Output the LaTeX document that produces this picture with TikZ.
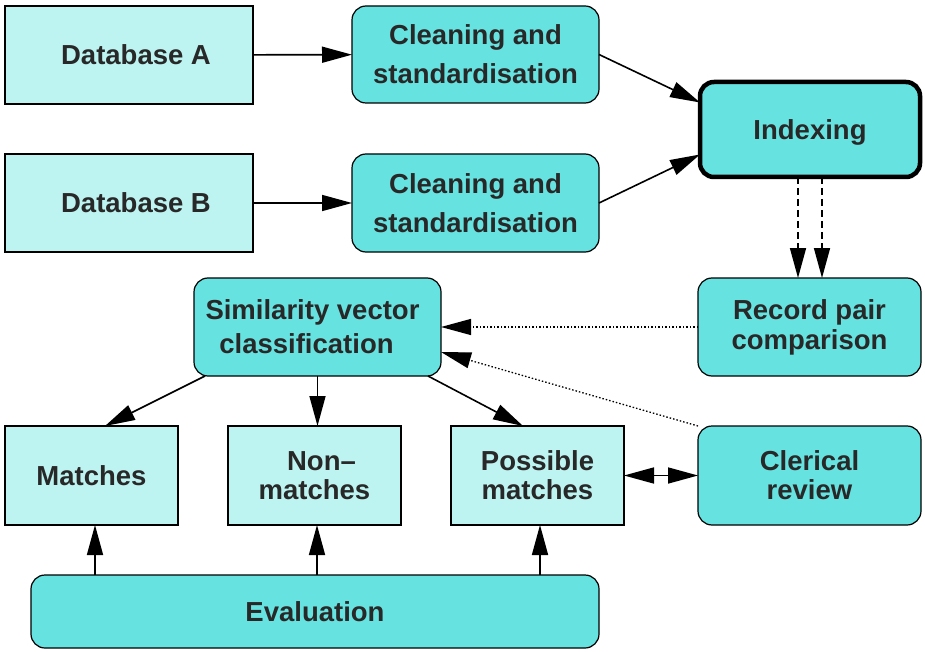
\documentclass[tikz,border=0pt]{standalone}
\usepackage{fontspec}
\setmainfont{Liberation Sans}
\usetikzlibrary{arrows.meta,calc}
\definecolor{lightc}{HTML}{BDF4F2}
\definecolor{darkc}{HTML}{66E3E1}
\definecolor{txt}{HTML}{282828}
\tikzset{
  base/.style={draw=black, line width=1.2pt, inner sep=0pt, outer sep=0pt, align=center,
    text=txt, font=\bfseries\fontsize{27.5}{29}\selectfont},
  plainbox/.style={base, fill=lightc, rectangle},
  roundbox/.style={base, fill=darkc, rounded corners=14pt},
  oneline/.style={text height=20pt, text depth=0pt},
  tip/.tip={Triangle[length=30pt,width=16pt]},
  arr/.style={line width=1.6pt, -tip},
  dbl/.style={line width=1.6pt, tip-tip},
  dashedarr/.style={arr, dash pattern=on 7pt off 4pt},
  dottedarr/.style={line width=1.3pt, dash pattern=on 1.5pt off 2pt, -tip},
}
\begin{document}
\begin{tikzpicture}[x=1pt,y=-1pt]
\useasboundingbox (0,0) rectangle (925,652);
\node[plainbox, oneline, minimum width=248pt, minimum height=98pt] (dbA) at (129,55) {\hspace*{14pt}Database A};
\node[plainbox, oneline, minimum width=248pt, minimum height=98pt] (dbB) at (129,203) {\hspace*{14pt}Database B};
\node[roundbox, minimum width=247pt, minimum height=97pt, font=\bfseries\fontsize{27.5}{39}\selectfont] (cl1) at (475.5,54.5) {Cleaning and\\standardisation};
\node[roundbox, minimum width=247pt, minimum height=98pt, font=\bfseries\fontsize{27.5}{39}\selectfont] (cl2) at (475.5,203) {Cleaning and\\standardisation};
\node[roundbox, oneline, line width=4.5pt, minimum width=220pt, minimum height=95pt] (idx) at (810,129.5) {Indexing};
\node[roundbox, minimum width=223pt, minimum height=98pt, font=\bfseries\fontsize{27.5}{30}\selectfont] (rec) at (809.5,327) {Record pair\\comparison};
\node[roundbox, minimum width=247pt, minimum height=98pt, font=\bfseries\fontsize{27.5}{34}\selectfont] (sim) at (317.5,327) {Similarity vector\hspace*{10pt}\\classification\hspace*{22pt}};
\node[plainbox, oneline, minimum width=173pt, minimum height=99pt] (mat) at (91.5,475.5) {Matches};
\node[plainbox, minimum width=173pt, minimum height=99pt] (non) at (314.5,475.5) {\hspace*{14pt}Non--\\matches};
\node[plainbox, minimum width=173pt, minimum height=99pt] (pos) at (537.5,475.5) {Possible\\matches};
\node[roundbox, minimum width=223pt, minimum height=99pt] (cler) at (809.5,475.5) {Clerical\\review};
\node[roundbox, oneline, minimum width=568pt, minimum height=73pt] (eva) at (315,611.5) {Evaluation};

\draw[arr] (dbA) -- (cl1);
\draw[arr] (dbB) -- (cl2);
\draw[arr] (cl1.east) -- ([yshift=27pt]idx.west);
\draw[arr] (cl2.east) -- ([yshift=-25pt]idx.west);
\draw[dashedarr] ([xshift=-12pt]idx.south) -- ([xshift=-12pt]idx.south |- rec.north);
\draw[dashedarr] ([xshift=12pt]idx.south) -- ([xshift=12pt]idx.south |- rec.north);
\draw[dottedarr] (rec.west) -- (sim.east);
\draw[dottedarr] (cler.north west) -- ([yshift=-25pt]sim.east);
\draw[arr] ([xshift=-112.5pt]sim.south) -- ([xshift=13.5pt]mat.north);
\draw[arr] (sim.south) -- (sim.south |- non.north);
\draw[arr] ([xshift=110.5pt]sim.south) -- ([xshift=-14.5pt]pos.north);
\draw[dbl] (pos.east) -- (cler.west);
\coordinate (e1) at ($(eva.north)+(-220,0)$);
\coordinate (e2) at ($(eva.north)+(2,0)$);
\coordinate (e3) at ($(eva.north)+(225,0)$);
\draw[arr] (e1) -- (e1 |- mat.south);
\draw[arr] (e2) -- (e2 |- non.south);
\draw[arr] (e3) -- (e3 |- pos.south);
\end{tikzpicture}
\end{document}
